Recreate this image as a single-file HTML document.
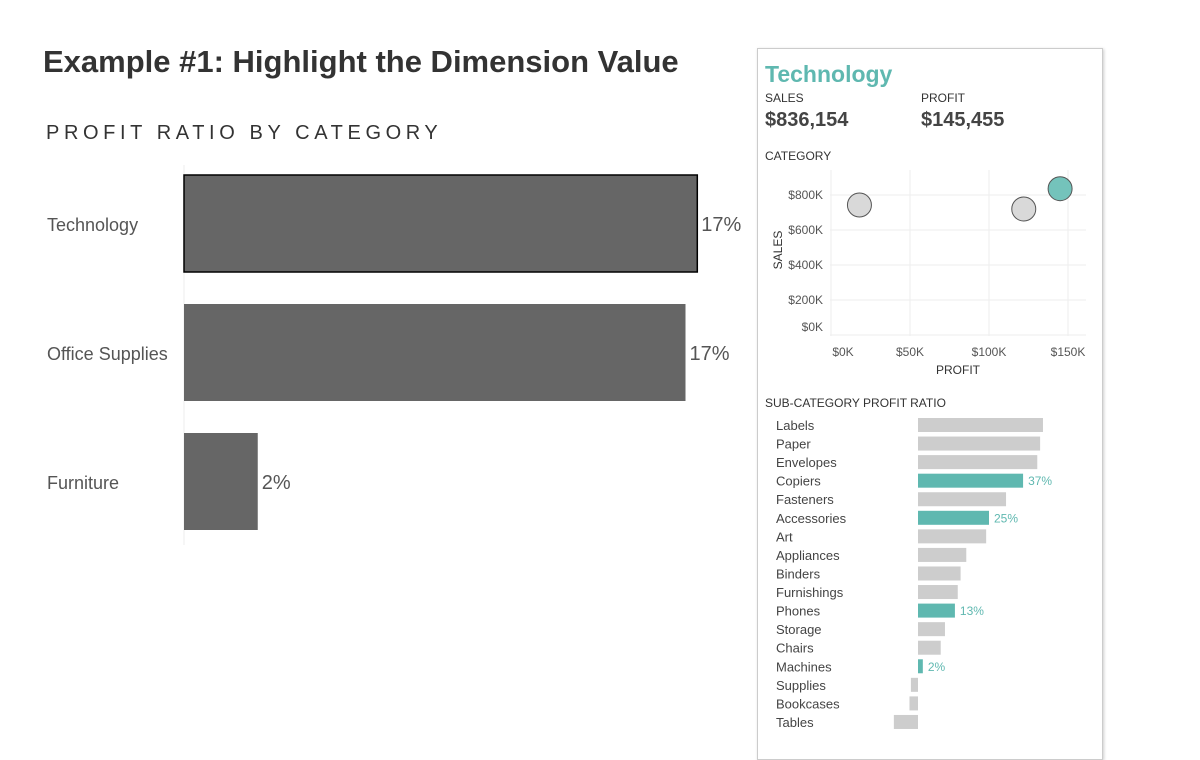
<!DOCTYPE html>
<html><head><meta charset="utf-8"><style>
body{margin:0;width:1200px;height:749px;background:#fff;font-family:"Liberation Sans","DejaVu Sans",sans-serif;overflow:hidden;position:relative}
.t{position:absolute;white-space:nowrap}
</style></head><body>
<div class="t" style="left:43px;top:44px;font-size:31px;font-weight:bold;color:#333">Example #1: Highlight the Dimension Value</div>
<div class="t" style="left:46px;top:122px;font-size:20px;letter-spacing:4.6px;color:#333">PROFIT RATIO BY CATEGORY</div>
<svg id="main" style="position:absolute;left:0;top:0" width="750" height="749"></svg>
<div style="position:absolute;left:757px;top:48px;width:344px;height:710px;border:1px solid #ccc;box-shadow:1px 1px 3px rgba(0,0,0,0.2)"></div>
<div class="t" style="left:765px;top:61px;font-size:23px;font-weight:bold;color:#5fb8b0">Technology</div>
<div class="t" style="left:765px;top:91px;font-size:12px;color:#333">SALES</div>
<div class="t" style="left:765px;top:109px;font-size:20px;font-weight:bold;color:#444">$836,154</div>
<div class="t" style="left:921px;top:91px;font-size:12px;color:#333">PROFIT</div>
<div class="t" style="left:921px;top:109px;font-size:20px;font-weight:bold;color:#444">$145,455</div>
<div class="t" style="left:765px;top:149px;font-size:12px;color:#333">CATEGORY</div>
<div class="t" style="left:765px;top:396px;font-size:12px;color:#333">SUB-CATEGORY PROFIT RATIO</div>
<svg id="side" style="position:absolute;left:0;top:0" width="1200" height="749"></svg>
<script>
const NS="http://www.w3.org/2000/svg";
function mk(p,tag,a){const e=document.createElementNS(NS,tag);for(const k in a)e.setAttribute(k,a[k]);p.appendChild(e);return e;}
// main chart data
const categories=["Technology","Office Supplies","Furniture"];
const ratios=[17.4,17.0,2.5];
const ratioLabels=["17%","17%","2%"];
const m=document.getElementById('main');
const xM=v=>184+v*29.5;
mk(m,'line',{x1:184,y1:165,x2:184,y2:545,stroke:'#eee'});
categories.forEach((c,i)=>{
 const y=175+i*129;
 const r=mk(m,'rect',{x:184,y:y,width:xM(ratios[i])-184,height:97,fill:'#666',stroke:i==0?'#000':'none','stroke-width':1.5});
 
 
 const l=mk(m,'text',{x:47,y:y+56,'font-size':18,fill:'#555'});l.textContent=c;
 
 
 const v=mk(m,'text',{x:xM(ratios[i])+4,y:y+56,'font-size':20,fill:'#555'});v.textContent=ratioLabels[i];
 
 
});
// scatter data
const scCats=["Furniture","Office Supplies","Technology"];
const scProfit=[18,122,145];
const scSales=[743,720,836];
const xTicks=[0,50,100,150];
const yTicks=[0,200,400,600,800];
const s=document.getElementById('side');
const xS=v=>831+v*1.58, yS=v=>335-v*0.175;
xTicks.forEach(t=>{mk(s,'line',{x1:xS(t),y1:170,x2:xS(t),y2:336,stroke:'#eee'});
 const e=mk(s,'text',{x:xS(t)+(t==0?12:0),y:356,'font-size':12,fill:'#555','text-anchor':'middle'});e.textContent='$'+t+'K';
 
 });
yTicks.forEach(t=>{mk(s,'line',{x1:830,y1:yS(t),x2:1086,y2:yS(t),stroke:'#eee'});
 const e=mk(s,'text',{x:823,y:yS(t)+4-(t==0?8:0),'font-size':12,fill:'#555','text-anchor':'end'});e.textContent='$'+t+'K';
 
 });
let at=mk(s,'text',{x:958,y:374,'font-size':12,fill:'#333','text-anchor':'middle'});at.textContent='PROFIT';


at=mk(s,'text',{x:0,y:0,'font-size':12,fill:'#333','text-anchor':'middle',transform:'translate(782,250) rotate(-90)'});at.textContent='SALES';


scCats.forEach((c,i)=>{const e=mk(s,'circle',{cx:xS(scProfit[i]),cy:yS(scSales[i]),r:12,fill:c=='Technology'?'#74c3bb':'#d9d9d9',stroke:'#555','stroke-width':1});
 
 });
// sub-category data
const subCats=["Labels","Paper","Envelopes","Copiers","Fasteners","Accessories","Art","Appliances","Binders","Furnishings","Phones","Storage","Chairs","Machines","Supplies","Bookcases","Tables"];
const subRatios=[44,43,42,37,31,25,24,17,15,14,13,9.5,8,1.7,-2.5,-3,-8.5];
const subHi=[0,0,0,1,0,1,0,0,0,0,1,0,0,1,0,0,0];
const xB=v=>918+v*2.84;
subCats.forEach((c,i)=>{const y=425+i*18.56;
 const l=mk(s,'text',{x:776,y:y+5,'font-size':13,fill:'#444'});l.textContent=c;
 
 
 const v=subRatios[i];
 const r=mk(s,'rect',{x:Math.min(xB(0),xB(v)),y:y-7,width:Math.abs(xB(v)-xB(0)),height:14,fill:subHi[i]?'#5fb8b0':'#cdcdcd'});
 
 
 if(subHi[i]){const t=mk(s,'text',{x:xB(v)+5,y:y+4.5,'font-size':12,fill:'#5fb8b0'});t.textContent=Math.round(v)+'%';
  
  }
});
</script>
</body></html>
